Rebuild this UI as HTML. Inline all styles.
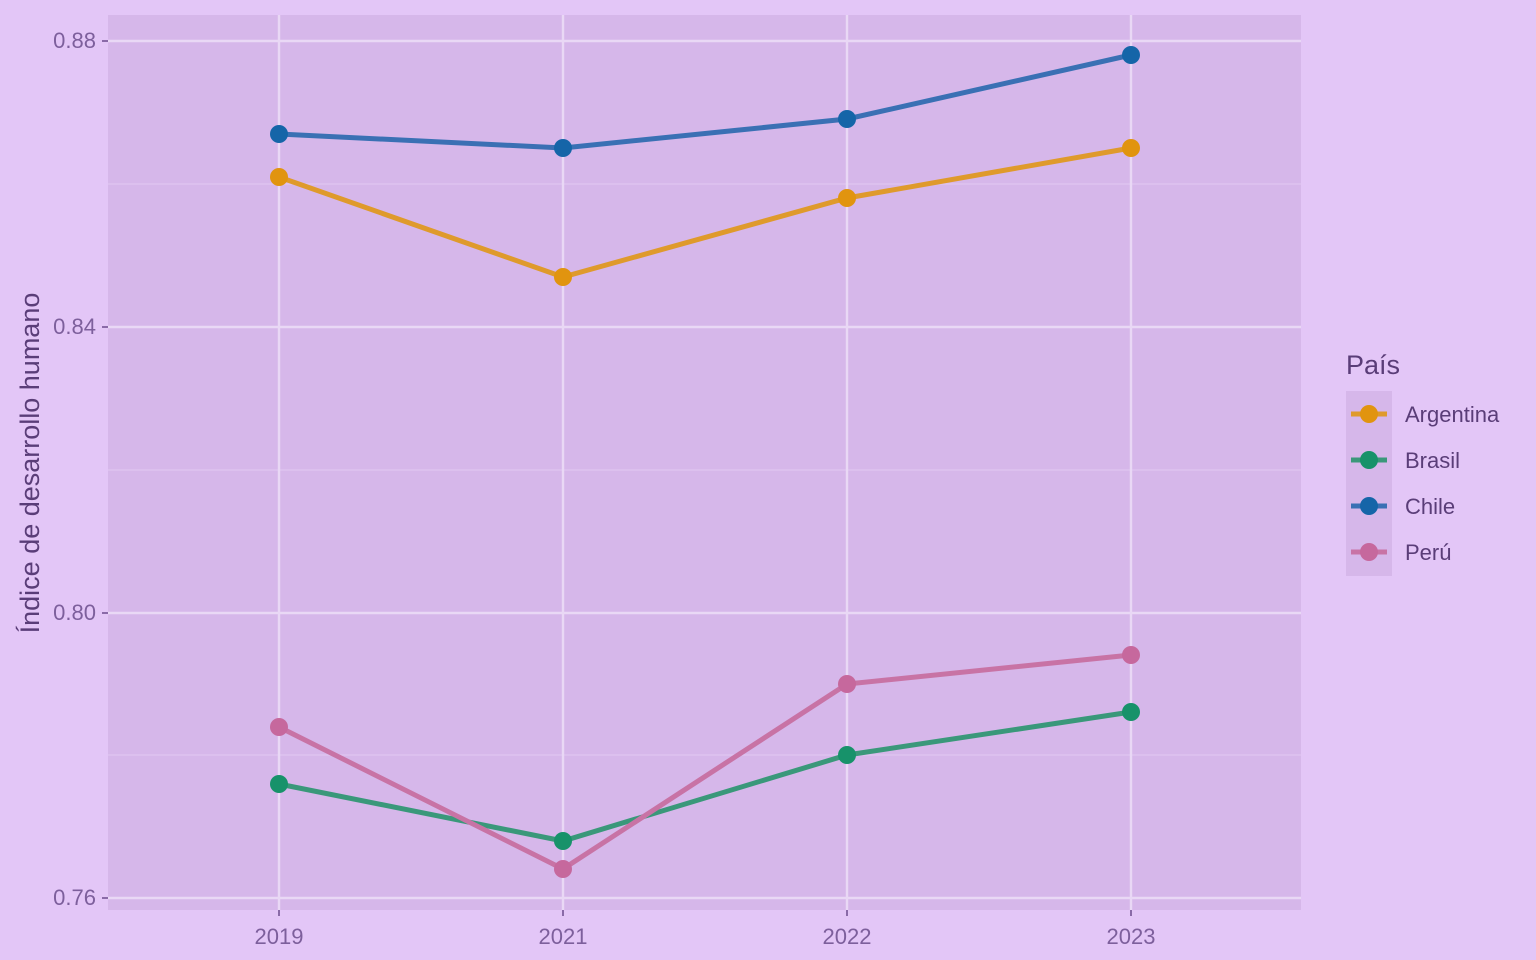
<!DOCTYPE html>
<html><head><meta charset="utf-8"><style>
html,body{margin:0;padding:0;background:#e3c6f7;}
svg{display:block;font-family:"Liberation Sans",sans-serif;}
</style></head><body>
<svg width="1536" height="960" viewBox="0 0 1536 960">
<rect width="1536" height="960" fill="#e3c6f7"/>
<rect x="108" y="15" width="1193" height="895" fill="#d6b7ea"/>
<g stroke="#dfc6f1" stroke-width="1.2">
<line x1="108" x2="1301" y1="184" y2="184"/><line x1="108" x2="1301" y1="470" y2="470"/><line x1="108" x2="1301" y1="755" y2="755"/>
</g>
<g stroke="#e9d8f5" stroke-width="2.4">
<line x1="108" x2="1301" y1="41" y2="41"/><line x1="108" x2="1301" y1="327" y2="327"/><line x1="108" x2="1301" y1="613" y2="613"/><line x1="108" x2="1301" y1="898" y2="898"/>
<line y1="15" y2="910" x1="279" x2="279"/><line y1="15" y2="910" x1="563" x2="563"/><line y1="15" y2="910" x1="847" x2="847"/><line y1="15" y2="910" x1="1131" x2="1131"/>
</g>
<g stroke="#8a6aa8" stroke-width="2">
<line x1="102" x2="108" y1="41" y2="41"/><line x1="102" x2="108" y1="327" y2="327"/><line x1="102" x2="108" y1="613" y2="613"/><line x1="102" x2="108" y1="898" y2="898"/>
<line y1="910" y2="916" x1="279" x2="279"/><line y1="910" y2="916" x1="563" x2="563"/><line y1="910" y2="916" x1="847" x2="847"/><line y1="910" y2="916" x1="1131" x2="1131"/>
</g>
<g fill="#7d5f9c" font-size="22" text-anchor="end">
<text x="96" y="48">0.88</text><text x="96" y="334">0.84</text><text x="96" y="620">0.80</text><text x="96" y="905">0.76</text>
</g>
<g fill="#7d5f9c" font-size="22" text-anchor="middle">
<text x="279" y="944">2019</text><text x="563" y="944">2021</text><text x="847" y="944">2022</text><text x="1131" y="944">2023</text>
</g>
<text transform="translate(39,463) rotate(-90)" fill="#5a3d78" font-size="27" text-anchor="middle">Índice de desarrollo humano</text>
<g fill="none" stroke-width="5">
<polyline stroke="#3a70b4" points="279,134 563,148 847,119 1131,55"/>
<polyline stroke="#df9a2c" points="279,177 563,277 847,198 1131,148"/>
<polyline stroke="#3a987a" points="279,784 563,841 847,755 1131,712"/>
<polyline stroke="#c873a5" points="279,727 563,869 847,684 1131,655"/>
</g>
<g fill="#1565a8"><circle cx="279" cy="134" r="9"/><circle cx="563" cy="148" r="9"/><circle cx="847" cy="119" r="9"/><circle cx="1131" cy="55" r="9"/></g>
<g fill="#e1940f"><circle cx="279" cy="177" r="9"/><circle cx="563" cy="277" r="9"/><circle cx="847" cy="198" r="9"/><circle cx="1131" cy="148" r="9"/></g>
<g fill="#17926a"><circle cx="279" cy="784" r="9"/><circle cx="563" cy="841" r="9"/><circle cx="847" cy="755" r="9"/><circle cx="1131" cy="712" r="9"/></g>
<g fill="#c6689d"><circle cx="279" cy="727" r="9"/><circle cx="563" cy="869" r="9"/><circle cx="847" cy="684" r="9"/><circle cx="1131" cy="655" r="9"/></g>
<text x="1346" y="374" fill="#5a3d78" font-size="27">País</text>
<rect x="1346" y="391" width="46" height="185" fill="#d6b7ea"/>
<g stroke-width="5">
<line x1="1351" x2="1387" y1="414" y2="414" stroke="#df9a2c"/><circle cx="1369" cy="414" r="9" fill="#e1940f"/>
<line x1="1351" x2="1387" y1="460" y2="460" stroke="#3a987a"/><circle cx="1369" cy="460" r="9" fill="#17926a"/>
<line x1="1351" x2="1387" y1="506" y2="506" stroke="#3a70b4"/><circle cx="1369" cy="506" r="9" fill="#1565a8"/>
<line x1="1351" x2="1387" y1="552" y2="552" stroke="#c873a5"/><circle cx="1369" cy="552" r="9" fill="#c6689d"/>
</g>
<g fill="#5a3d78" font-size="22">
<text x="1405" y="422">Argentina</text><text x="1405" y="468">Brasil</text><text x="1405" y="514">Chile</text><text x="1405" y="560">Perú</text>
</g>
</svg>
</body></html>
